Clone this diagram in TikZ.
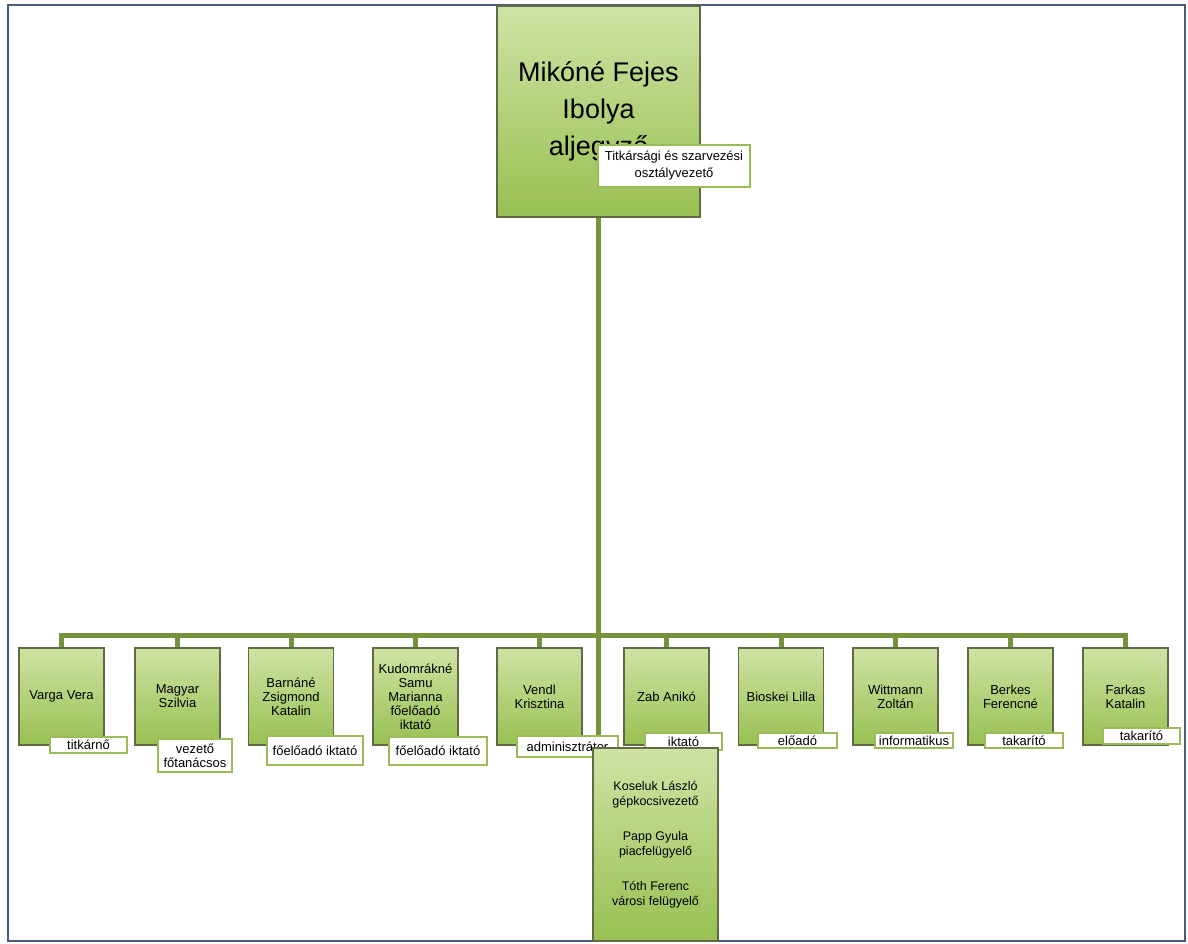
\documentclass[tikz,border=0pt]{standalone}
\usepackage{fontspec}
\setmainfont{Liberation Sans}
\usetikzlibrary{backgrounds}
\definecolor{conn}{HTML}{76923C}
\definecolor{boxline}{HTML}{5F6B45}
\definecolor{gtop}{HTML}{CFE3A4}
\definecolor{gbot}{HTML}{98C052}
\definecolor{lblline}{HTML}{9BBB59}
\definecolor{frame}{HTML}{4A5A7A}
\tikzset{
  person/.style={draw=boxline, line width=1.3pt, top color=gtop, bottom color=gbot,
    minimum width=85pt, minimum height=97pt, align=center, inner sep=2pt,
    font=\fontsize{13}{14}\selectfont},
  role/.style={draw=lblline, line width=1.5pt, fill=white, align=center, inner sep=1pt,
    font=\fontsize{13}{14}\selectfont},
  conline/.style={draw=conn, line width=5pt},
}
\begin{document}
\begin{tikzpicture}[x=1pt,y=-1pt]
\useasboundingbox (0,0) rectangle (1188,944);
\draw[frame, line width=2pt] (8,5) rectangle (1185,941);

% top node
\node[draw=boxline, line width=1.3pt, top color=gtop, bottom color=gbot,
  minimum width=203pt, minimum height=211pt, align=center,
  font=\fontsize{27}{37}\selectfont] (top) at (598.5,111.5)
  {Mikóné Fejes\\Ibolya\\aljegyző};
\node[role, minimum width=152pt, minimum height=42pt, font=\fontsize{13}{17}\selectfont]
  (toprole) at (674,166) {Titkársági és szarvezési\\osztályvezető};

% children
\node[person] (c1) at (61.5,696.5) {Varga Vera};
\node[person] (c2) at (177.5,696.5) {Magyar\\Szilvia};
\node[person] (c3) at (291,696.5) {Barnáné\\Zsigmond\\Katalin};
\node[person] (c4) at (415.5,696.5) {Kudomrákné\\Samu\\Marianna\\főelőadó\\iktató};
\node[person] (c5) at (539.5,696.5) {Vendl\\Krisztina};
\node[person] (c6) at (666.5,696.5) {Zab Anikó};
\node[person] (c7) at (781,696.5) {Bioskei Lilla};
\node[person] (c8) at (895.5,696.5) {Wittmann\\Zoltán};
\node[person] (c9) at (1010.5,696.5) {Berkes\\Ferencné};
\node[person] (c10) at (1125.5,696.5) {Farkas\\Katalin};

% role labels
\node[role, minimum width=77pt, minimum height=16pt] (r1) at (88.5,745) {titkárnő};
\node[role, minimum width=74pt, minimum height=33pt] (r2) at (195,755.5) {vezető\\főtanácsos};
\node[role, minimum width=96pt, minimum height=29pt] (r3) at (315,750.5) {főelőadó iktató};
\node[role, minimum width=98pt, minimum height=28pt] (r4) at (438,751) {főelőadó iktató};
\node[role, minimum width=101pt, minimum height=21pt] (r5) at (567.5,746.5) {adminisztrátor};
\node[role, minimum width=77pt, minimum height=17pt] (r6) at (683.5,741.5) {iktató};
\node[role, minimum width=79pt, minimum height=15pt] (r7) at (797.5,740.5) {előadó};
\node[role, minimum width=78pt, minimum height=15pt] (r8) at (914,740.5) {informatikus};
\node[role, minimum width=78pt, minimum height=15pt] (r9) at (1024,740.5) {takarító};
\node[role, minimum width=77pt, minimum height=16pt] (r10) at (1141.5,736) {takarító};

% bottom box
\node[draw=boxline, line width=1.3pt, top color=gtop, bottom color=gbot,
  minimum width=125pt, minimum height=193pt, align=center,
  font=\fontsize{12.5}{15}\selectfont] (bottom) at (655.5,844.5)
  {Koseluk László\\gépkocsivezető\\[20pt]Papp Gyula\\piacfelügyelő\\[20pt]Tóth Ferenc\\városi felügyelő};

\coordinate (bar) at (598.5,635);

\begin{scope}[on background layer]
\draw[conline] (top.south) -- (top.south |- bottom.north);
\draw[conline, line cap=rect] (c1.north |- bar) -- (c10.north |- bar);
\foreach \c in {c1,c2,c3,c4,c5,c6,c7,c8,c9,c10}
  \draw[conline] (\c.north) -- (\c.north |- bar);
\end{scope}
\end{tikzpicture}
\end{document}
